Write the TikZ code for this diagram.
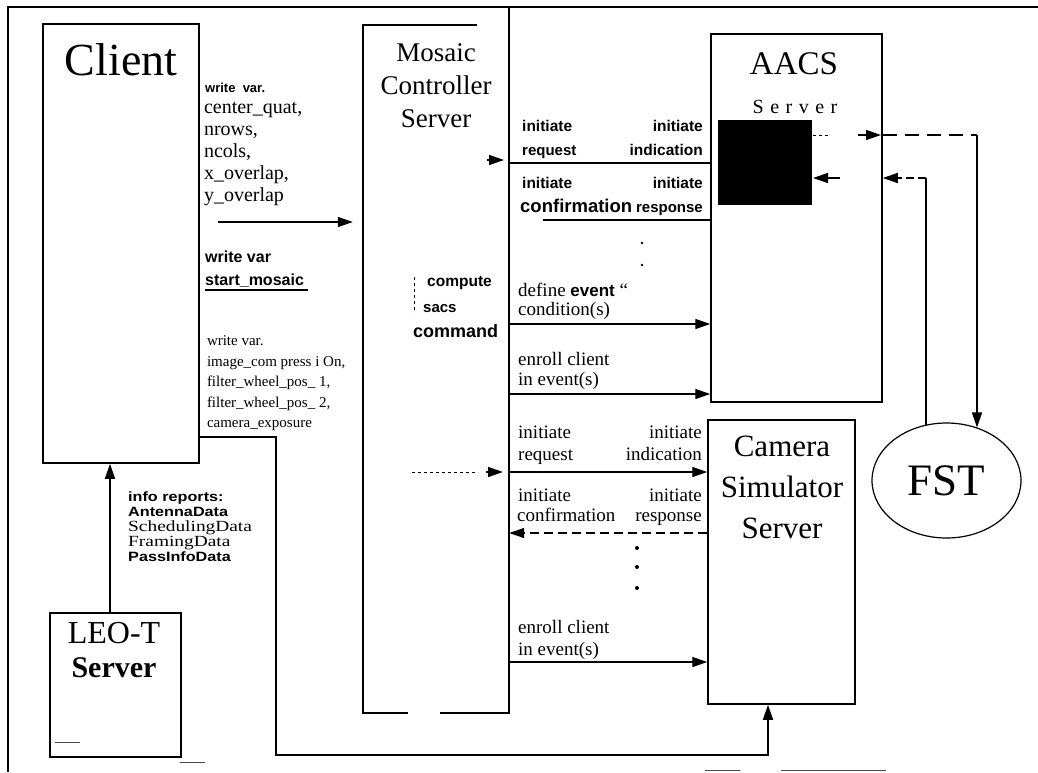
\documentclass[tikz,border=0pt]{standalone}
\usepackage{fontspec}
\setmainfont{Liberation Serif}
\newfontfamily\sansb{Liberation Sans}
\newfontfamily\wsans[FakeStretch=1.2]{Liberation Sans}
\newfontfamily\wserif[FakeStretch=1.25]{Liberation Serif}
\usetikzlibrary{arrows.meta,shapes.geometric}
\newcommand{\mysb}[2]{\sansb\bfseries\fontsize{#1}{#2}\selectfont}
\newcommand{\mysr}[2]{\rmfamily\fontsize{#1}{#2}\selectfont}
\newcommand{\mywsb}[2]{\wsans\bfseries\fontsize{#1}{#2}\selectfont}
\newcommand{\mywsr}[2]{\wserif\fontsize{#1}{#2}\selectfont}
\begin{document}
\begin{tikzpicture}[x=1pt,y=-1pt,
  frame/.style={line width=2.2pt},
  boxline/.style={draw, line width=1.5pt, rectangle, inner sep=0pt},
  boxln/.style={line width=1.5pt},
  conn/.style={line width=1.4pt},
  arr/.style={line width=1.4pt, -{Triangle[length=15pt,width=10pt]}},
  txt/.style={inner sep=0pt, outer sep=0pt},
  lab/.style={inner sep=0pt, anchor=base west},
  labr/.style={inner sep=0pt, anchor=base east},
  artifact/.style={line width=1pt, black!70}
]
\useasboundingbox (0,0) rectangle (1038,772);

% outer frame
\draw[frame] (8,772) -- (8,7) -- (1038,7);

% ---------- boxes ----------
\node[boxline, minimum width=156pt, minimum height=439pt] (client) at (121,243.5) {};
\node[txt, anchor=base, font=\mysr{46}{46}] (clientt) at (121,75) {Client};

\node[inner sep=0pt, minimum width=146pt, minimum height=688pt] (mosaic) at (436,369) {};
\draw[boxln] ([xshift=114pt]mosaic.north west) -- (mosaic.north west) -- (mosaic.south west) -- ([xshift=45pt]mosaic.south west);
\draw[boxln] ([xshift=77pt]mosaic.south west) -- (mosaic.south east) -- (mosaic.north east) -- (mosaic.north east |- 0,7);
\node[txt, anchor=north, align=center, font=\mysr{27}{33}] (mosaict) at (436,44) {Mosaic\\Controller\\Server};

\node[boxline, minimum width=171pt, minimum height=368pt] (aacs) at (796.5,218) {};
\node[txt, anchor=base, font=\mysr{33}{33}] (aacst) at (794,74) {AACS};
\node[txt, anchor=base, font=\mysr{20}{20}] (aacss) at (795,113) {S\hspace{6.5pt}e\hspace{6.5pt}r\hspace{6.5pt}v\hspace{6.5pt}e\hspace{6.5pt}r};
\node[fill=black, inner sep=0pt, minimum width=94pt, minimum height=85pt] (fstif) at (765,162.5) {};

\node[boxline, minimum width=147pt, minimum height=284pt] (camera) at (781.5,562) {};
\node[txt, anchor=north, align=center, font=\mysr{31}{41}] (camerat) at (782,435.5) {Camera\\Simulator\\Server};

\node[draw, ellipse, line width=1.2pt, inner sep=0pt, minimum width=149pt, minimum height=115pt, font=\mysr{45}{45}] (fst) at (946.5,480.5) {FST};

\node[boxline, minimum width=131pt, minimum height=144pt] (leo) at (115.5,685) {};
\node[txt, anchor=base, font=\mysr{32}{32}] (leot) at (114,643) {LEO-T};
\node[txt, anchor=base, font=\mysr{30}{30}\bfseries] (leos) at (114,677) {Server};

% ---------- Client -> Mosaic labels ----------
\node[lab, font=\mysb{13}{13}] (wv1) at (205,92) {write\ \ var.};
\node[txt, anchor=north west, align=left, font=\mysr{20}{22}] (vars1) at (204,102) {center\_quat,\\nrows,\\ncols,\\x\_overlap,\\y\_overlap};
\coordinate (c1s) at (218,222);
\draw[arr, shorten >=10pt] (c1s) -- (mosaic.west |- c1s);

\node[lab, font=\mysb{16}{16}] (wv2) at (205,262) {write var};
\node[lab, font=\mysb{16}{16}] (sm) at (205,285) {start\_mosaic};
\draw[conn] (205,290) -- (308,290);

\node[txt, anchor=north west, align=left, font=\mysr{15}{20.5}] (vars2) at (207,336) {write var.\\image\_com press i On,\\filter\_wheel\_pos\_ 1,\\filter\_wheel\_pos\_ 2,\\camera\_exposure};

% Client -> Camera
\draw[arr] (client.east |- 0,437) -- (276,437) -- (276,755) -| ([xshift=-13.5pt]camera.south);

% LEO -> Client
\draw[arr] ([xshift=-5.5pt]leo.north) -- ([xshift=-5.5pt]leo.north |- client.south);
\node[lab, font=\mywsb{13.5}{14}] (inf1) at (128,501) {info reports:};
\node[lab, font=\mywsb{13.5}{14}] (inf2) at (128,516) {AntennaData};
\node[lab, font=\mywsr{15.5}{16}] (inf3) at (128,531) {SchedulingData};
\node[lab, font=\mywsr{15.5}{16}] (inf4) at (128,546) {FramingData};
\node[lab, font=\mywsb{13.5}{14}] (inf5) at (128,561) {PassInfoData};

% ---------- Mosaic <-> AACS ----------
\node[lab, font=\mysb{15.5}{16}] (ir1) at (522,131) {initiate};
\node[labr, font=\mysb{15.5}{16}] (ii1) at (703,131) {initiate};
\node[lab, font=\mysb{15}{16}] (ir2) at (522,155) {request};
\node[labr, font=\mysb{15.5}{16}] (ii2) at (703,155) {indication};
\draw[conn] (mosaic.east |- 0,163) -- (aacs.west |- 0,163);
\draw[arr] (487,160) -- (504,160);
\node[lab, font=\mysb{15.5}{16}] (ic1) at (522,188) {initiate};
\node[labr, font=\mysb{15.5}{16}] (is1) at (703,188) {initiate};
\node[lab, font=\mysb{18.5}{19}] (ic2) at (520,212) {confirmation};
\node[labr, font=\mysb{15}{16}] (is2) at (703,212) {response};
\draw[conn] (543,220) -- (aacs.west |- 0,220);
\fill (642,243) circle (1.3pt);
\fill (642,265) circle (1.3pt);

\node[lab, font=\mysb{15.5}{16}] (cmp1) at (427,286) {compute};
\node[lab, font=\mysb{15}{16}] (cmp2) at (423,312) {sacs};
\node[lab, font=\mysb{18}{18}] (cmp3) at (413,337) {command};
\draw[dashed, line width=0.8pt] (414,277) -- (414,313);

\node[lab, font=\mysr{19}{19}] (de1) at (518,296) {define {\mysb{17}{17}event} “};
\node[lab, font=\mysr{19}{19}] (de2) at (518,315) {condition(s)};
\draw[arr] (mosaic.east |- 0,324) -- (aacs.west |- 0,324);
\node[lab, font=\mysr{19}{19}] (ec1) at (518,365) {enroll client};
\node[lab, font=\mysr{19}{19}] (ec2) at (518,385) {in event(s)};
\draw[arr] (mosaic.east |- 0,394) -- (aacs.west |- 0,394);

% ---------- Mosaic <-> Camera ----------
\node[lab, font=\mysr{19}{19}] (ci1) at (518,438) {initiate};
\node[labr, font=\mysr{19}{19}] (ci1r) at (702,438) {initiate};
\node[lab, font=\mysr{19}{19}] (ci2) at (518,460) {request};
\node[labr, font=\mysr{19}{19}] (ci2r) at (702,460) {indication};
\draw[arr] (mosaic.east |- 0,472) -- (camera.west |- 0,472);
\draw[dashed, line width=1pt] (412,472) -- (478,472);
\draw[arr] (486,472) -- (503,472);
\node[lab, font=\mysr{19}{19}] (ci3) at (518,501) {initiate};
\node[labr, font=\mysr{19}{19}] (ci3r) at (702,501) {initiate};
\node[lab, font=\mysr{19}{19}] (ci4) at (517,521) {confirmation};
\node[labr, font=\mysr{19}{19}] (ci4r) at (702,521) {response};
\draw[arr, dash pattern=on 9pt off 5pt] (camera.west |- 0,533) -- (mosaic.east |- 0,533);
\fill (637,548) circle (2pt);
\fill (637,567) circle (2pt);
\fill (637,588) circle (2pt);
\node[lab, font=\mysr{19}{19}] (ec3) at (518,633) {enroll client};
\node[lab, font=\mysr{19}{19}] (ec4) at (518,655) {in event(s)};
\draw[arr] (mosaic.east |- 0,662) -- (camera.west |- 0,662);

% ---------- AACS <-> FST ----------
\draw[dashed, line width=1pt] (813,135) -- (830,135);
\draw[arr] (858,135) -- (881,135);
\draw[conn, dash pattern=on 14pt off 8pt] (aacs.east |- 0,135) -- (977,135);
\draw[arr] (977,135) -- (977,135 |- fst.60);
\draw[conn] (926,178 |- fst.112) -- (926,178);
\draw[arr, dash pattern=on 8pt off 4pt] (926,178) -- (aacs.east |- 0,178);
\draw[arr] (840,178) -- (813,178);

% ---------- scan marks ----------
\draw[artifact] (55,742) -- (80,742);
\draw[artifact] (180,762) -- (205,762);
\draw[artifact] (705,770) -- (740,770);
\draw[artifact] (781,770) -- (886,770);
\end{tikzpicture}
\end{document}
